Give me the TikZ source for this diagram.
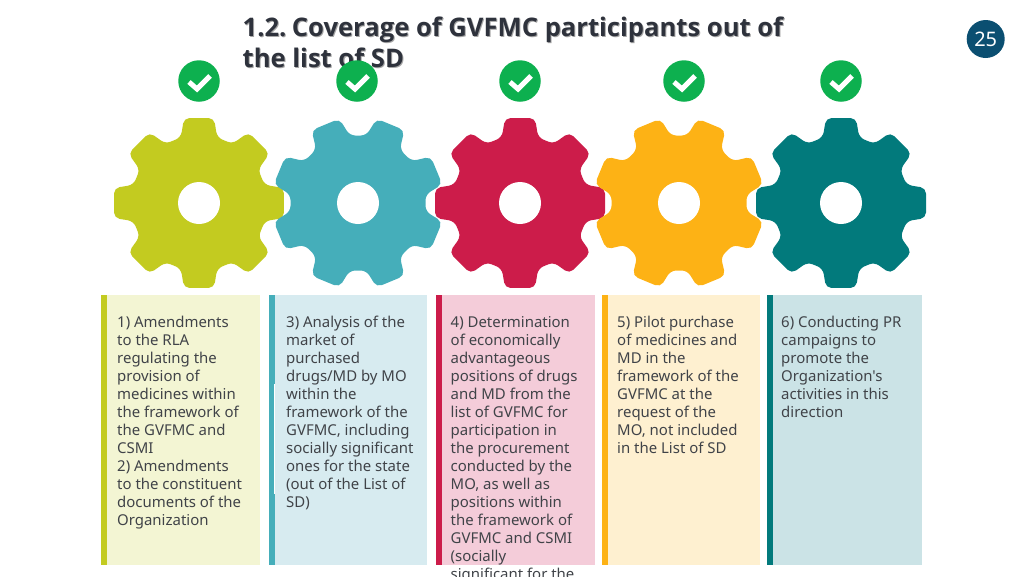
\documentclass[tikz,border=0pt]{standalone}
\usepackage{fontspec}
\setmainfont{Noto Sans}
\newfontfamily\panelfont{Noto Sans}
\newfontfamily\titlefont{Open Sans}[BoldFont={Open Sans Bold}]
\usetikzlibrary{positioning}
\definecolor{limeC}{HTML}{C3CB20}
\definecolor{aquaC}{HTML}{45AEBA}
\definecolor{redC}{HTML}{CC1C4A}
\definecolor{amberC}{HTML}{FDB215}
\definecolor{tealC}{HTML}{027A7C}
\definecolor{limeL}{HTML}{F3F5D3}
\definecolor{aquaL}{HTML}{D7EBF0}
\definecolor{redL}{HTML}{F4CCD9}
\definecolor{amberL}{HTML}{FEF0D0}
\definecolor{tealL}{HTML}{CBE3E6}
\definecolor{okC}{HTML}{0DB04F}
\definecolor{navyC}{HTML}{0B4F71}
\definecolor{inkC}{HTML}{404348}
\definecolor{titleC}{HTML}{2E323C}
\tikzset{
    paneltext/.style={anchor=north west, inner sep=0pt, align=left, text=inkC,
        font=\panelfont\fontsize{14.95}{18}\selectfont},
    titletext/.style={anchor=north west, inner sep=0pt, align=left,
        font=\titlefont\bfseries\fontsize{25.6}{31}\selectfont},
    okbadge/.style={circle, fill=okC, minimum size=41.5pt, inner sep=0pt},
    hole/.style={circle, fill=white, minimum size=42pt, inner sep=0pt},
}
\begin{document}
\begin{tikzpicture}[x=1pt, y=-1pt]
    \useasboundingbox (0,0) rectangle (1024,576);
    % title
    \node[titletext, text=black!35] (titleshadow) at (243.5,17.5)
        {1.2.\hspace{-3.5pt} Coverage of GVFMC participants out of\\the list of SD};
    \node[titletext, text=titleC] (title) at (242.5,16.5)
        {1.2.\hspace{-3.5pt} Coverage of GVFMC participants out of\\the list of SD};
    \node[circle, fill=navyC, text=white, minimum size=38pt, inner sep=0pt,
        font=\fontsize{20}{24}\selectfont] (pagenum) at (985.7,39) {25};
    % gears
    \foreach \cx/\col/\rot in {199/limeC/0, 358/aquaC/22.5, 520/redC/0, 679/amberC/22.5, 841/tealC/0} {
        \fill[\col, rounded corners=5.5pt, shift={(\cx,203)}]
            ({\rot+22.5}:68)
            \foreach \a in {45,90,...,360} {
                -- ({\rot+\a-15.5}:68) -- ({\rot+\a-10}:86.3)
                -- ({\rot+\a+10}:86.3) -- ({\rot+\a+15.5}:68)
            } -- cycle;
        \node[hole] (hole\cx) at (\cx,203) {};
    }
    % check marks
    \foreach \cx in {199,357,520,684,841} {
        \node[okbadge] (ok\cx) at (\cx,81) {};
        \draw[white, line width=5pt, shift={(\cx,81)}] (-10,1) -- (-2,8) -- (11,-5);
    }
    % panels
    \foreach \bx/\wx/\col/\lite in {101/260/limeC/limeL, 269/427/aquaC/aquaL, 436/595/redC/redL, 602/760/amberC/amberL, 767/922/tealC/tealL} {
        \fill[\lite] (\bx,295) rectangle (\wx,564.5);
        \fill[\col] (\bx,295) rectangle (\bx+6,564.5);
    }
    \fill[white] (274,383.5) rectangle (275,494);
    \node[paneltext] (textA) at (117,315.5)
        {1) Amendments\\to the RLA\\regulating the\\provision of\\medicines within\\the framework of\\the GVFMC and\\CSMI\\2) Amendments\\to the constituent\\documents of the\\Organization};
    \node[paneltext] (textB) at (286,315.5)
        {3) Analysis of the\\market of\\purchased\\drugs/MD by MO\\within the\\framework of the\\GVFMC, including\\socially significant\\ones for the state\\(out of the List of\\SD)};
    \node[paneltext] (textC) at (450.5,316)
        {4) Determination\\of economically\\advantageous\\positions of drugs\\and MD from the\\list of GVFMC for\\participation in\\the procurement\\conducted by the\\MO, as well as\\positions within\\the framework of\\GVFMC and CSMI\\(socially\\significant for the};
    \node[paneltext] (textD) at (617,315.5)
        {5) Pilot purchase\\of medicines and\\MD in the\\framework of the\\GVFMC at the\\request of the\\MO, not included\\in the List of SD};
    \node[paneltext] (textE) at (781,315.5)
        {6) Conducting PR\\campaigns to\\promote the\\Organization's\\activities in this\\direction};
\end{tikzpicture}
\end{document}
